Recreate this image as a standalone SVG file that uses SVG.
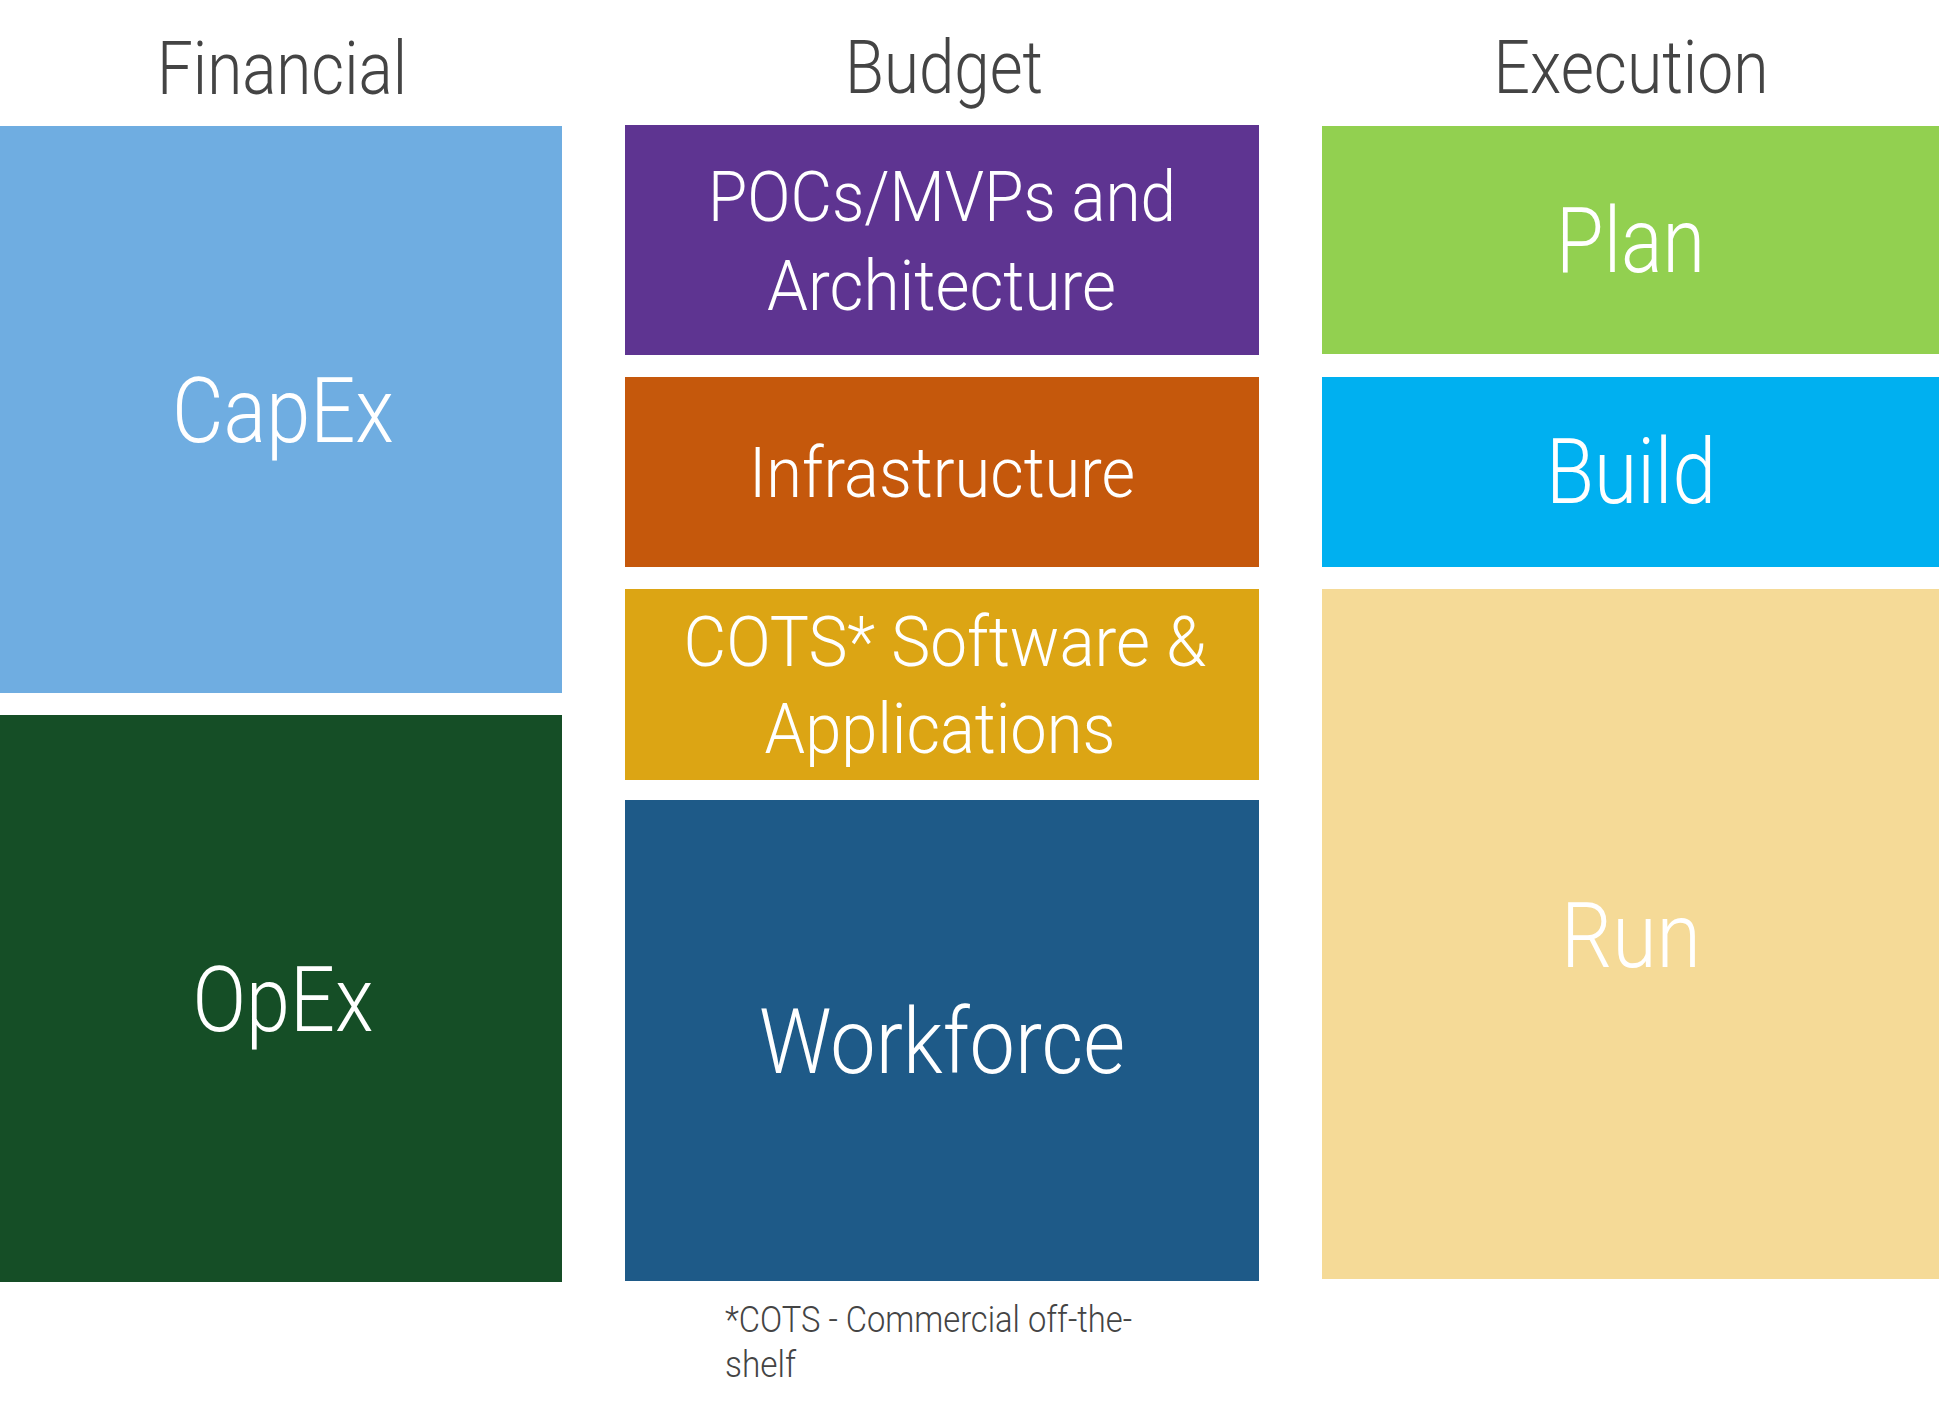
<svg xmlns="http://www.w3.org/2000/svg" width="1939" height="1409" viewBox="0 0 1939 1409">
  <style>
    text { font-family: Roboto, "Liberation Sans", sans-serif; font-weight: 300; }
    .hd { fill: #444444; font-size: 74px; text-anchor: middle; }
    .big { fill: #ffffff; font-size: 91px; text-anchor: middle; }
    .mid { fill: #ffffff; font-size: 71px; text-anchor: middle; }
    .note { fill: #444444; font-size: 37px; }
  </style>
  <rect x="0" y="0" width="1939" height="1409" fill="#ffffff"/>
  <g id="headers">
    <text class="hd" x="282" y="94" textLength="250" lengthAdjust="spacingAndGlyphs">Financial</text>
    <text class="hd" x="944" y="93" textLength="198" lengthAdjust="spacingAndGlyphs">Budget</text>
    <text class="hd" x="1631" y="93" textLength="275" lengthAdjust="spacingAndGlyphs">Execution</text>
  </g>
  <g id="capex">
    <rect x="0" y="126" width="562" height="567" fill="#6FADE1"/>
    <text class="big" x="283" y="442" textLength="222" lengthAdjust="spacingAndGlyphs">CapEx</text>
  </g>
  <g id="opex">
    <rect x="0" y="715" width="562" height="567" fill="#154E26"/>
    <text class="big" x="283" y="1031" textLength="181" lengthAdjust="spacingAndGlyphs">OpEx</text>
  </g>
  <g id="pocs">
    <rect x="625" y="125" width="634" height="230" fill="#5E3491"/>
    <text class="mid" x="942" y="221" textLength="468" lengthAdjust="spacingAndGlyphs">POCs/MVPs and</text>
    <text class="mid" x="941.5" y="310" textLength="349" lengthAdjust="spacingAndGlyphs">Architecture</text>
  </g>
  <g id="infrastructure">
    <rect x="625" y="377" width="634" height="190" fill="#C5580C"/>
    <text class="mid" x="942" y="497" textLength="386" lengthAdjust="spacingAndGlyphs">Infrastructure</text>
  </g>
  <g id="cots">
    <rect x="625" y="589" width="634" height="191" fill="#DCA514"/>
    <text class="mid" x="945" y="666" textLength="523" lengthAdjust="spacingAndGlyphs">COTS* Software &amp;</text>
    <text class="mid" x="940" y="753" textLength="351" lengthAdjust="spacingAndGlyphs">Applications</text>
  </g>
  <g id="workforce">
    <rect x="625" y="800" width="634" height="481" fill="#1E5A88"/>
    <text class="big" x="942" y="1073" textLength="366" lengthAdjust="spacingAndGlyphs">Workforce</text>
  </g>
  <g id="plan">
    <rect x="1322" y="126" width="617" height="228" fill="#92D050"/>
    <text class="big" x="1630.5" y="272" textLength="149" lengthAdjust="spacingAndGlyphs">Plan</text>
  </g>
  <g id="build">
    <rect x="1322" y="377" width="617" height="190" fill="#00B0F0"/>
    <text class="big" x="1631" y="503" textLength="170" lengthAdjust="spacingAndGlyphs">Build</text>
  </g>
  <g id="run">
    <rect x="1322" y="589" width="617" height="690" fill="#F5DA97"/>
    <text class="big" x="1631" y="967" textLength="140" lengthAdjust="spacingAndGlyphs">Run</text>
  </g>
  <g id="footnote">
    <text class="note" x="725" y="1332" textLength="407" lengthAdjust="spacingAndGlyphs">*COTS - Commercial off-the-</text>
    <text class="note" x="725" y="1377" textLength="71" lengthAdjust="spacingAndGlyphs">shelf</text>
  </g>
  <g id="connectors"></g>
</svg>
